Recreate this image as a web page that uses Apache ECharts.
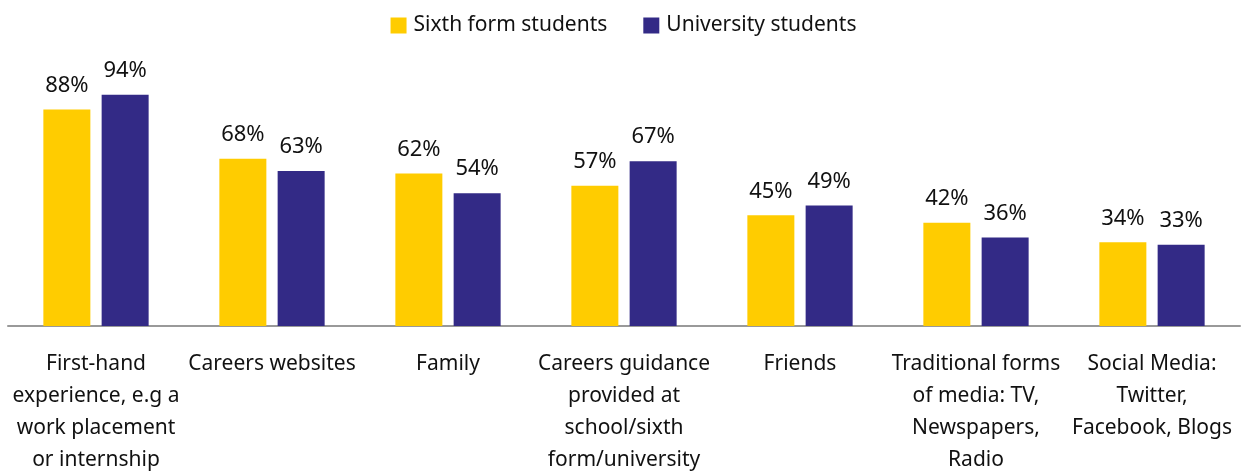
<!DOCTYPE html>
<html>
<head>
<meta charset="utf-8">
<script src="https://cdn.jsdelivr.net/npm/echarts@6/dist/echarts.min.js"></script>
<style>
  html, body { margin: 0; padding: 0; background: #fff; }
  #chart { width: 1247px; height: 476px; }
</style>
</head>
<body>
<div id="chart"></div>
<script>
// categories and values
const categories = [
  "First-hand\nexperience, e.g a\nwork placement\nor internship",
  "Careers websites",
  "Family",
  "Careers guidance\nprovided at\nschool/sixth\nform/university",
  "Friends",
  "Traditional forms\nof media: TV,\nNewspapers,\nRadio",
  "Social Media:\nTwitter,\nFacebook, Blogs"
];
const sixthForm = [88, 68, 62, 57, 45, 42, 34];
const university = [94, 63, 54, 67, 49, 36, 33];

const font = "Noto Sans";
const textColor = "#111";

const chart = echarts.init(document.getElementById("chart"));

const labelStyle = {
  show: true,
  position: "top",
  distance: 13,
  formatter: "{c}%",
  color: textColor,
  fontFamily: font,
  fontSize: 22
};

chart.setOption({
  animation: false,
  legend: {
    data: ["Sixth form students", "University students"],
    top: 10,
    left: "center",
    itemWidth: 16,
    itemHeight: 16,
    itemGap: 36,
    icon: "rect",
    textStyle: {
      color: textColor,
      fontFamily: font,
      fontSize: 21,
      padding: [0, 0, 0, 2]
    }
  },
  grid: {
    left: 8,
    right: 7,
    top: 80,
    bottom: 138,
    containLabel: false
  },
  xAxis: {
    type: "category",
    data: categories,
    axisLine: { lineStyle: { color: "#999", width: 2 } },
    axisTick: { show: false },
    axisLabel: {
      interval: 0,
      margin: 22,
      color: textColor,
      fontFamily: font,
      fontSize: 21,
      lineHeight: 32,
      align: "center"
    }
  },
  yAxis: {
    type: "value",
    min: 0,
    max: 100,
    show: false,
    splitLine: { show: false }
  },
  series: [
    {
      name: "Sixth form students",
      type: "bar",
      data: sixthForm,
      barWidth: 47,
      barGap: "24%",
      itemStyle: { color: "#FFCC00" },
      label: labelStyle
    },
    {
      name: "University students",
      type: "bar",
      data: university,
      barWidth: 47,
      itemStyle: { color: "#332A86" },
      label: labelStyle
    }
  ]
});
</script>
</body>
</html>
